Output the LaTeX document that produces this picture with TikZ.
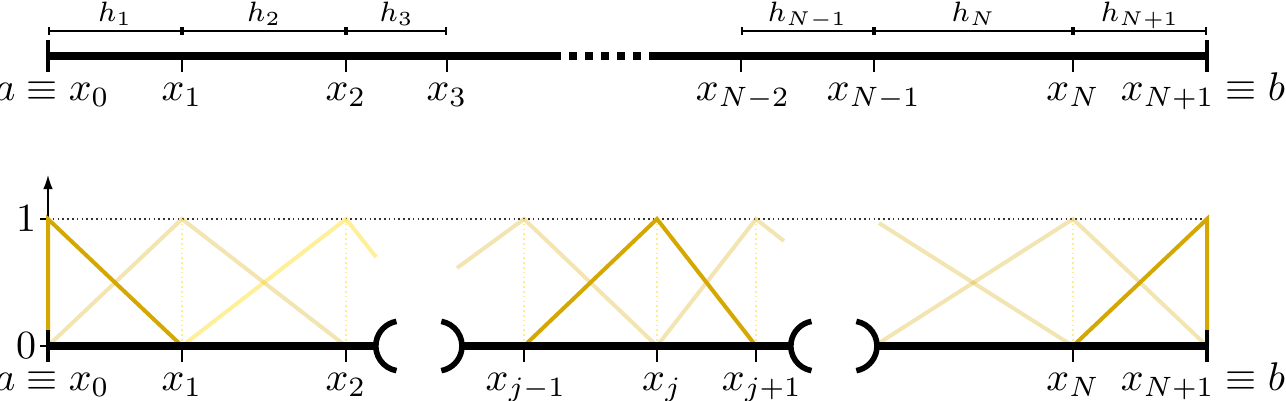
\documentclass[tikz,border=0pt]{standalone}
\usepackage{amsmath,amssymb}
\usetikzlibrary{arrows.meta}
\definecolor{hatdark}{RGB}{212,168,0}
\definecolor{hatgold}{RGB}{255,215,0}
\tikzset{
  axisline/.style={line width=2pt},
  endbar/.style={line width=1pt},
  tickline/.style={line width=0.5pt},
  brk/.style={line width=1.4pt},
  hat/.style={line width=1pt,hatdark},
  fadedhat/.style={hat,opacity=0.3},
  yelhat/.style={line width=1pt,hatgold,opacity=0.4},
  guide/.style={hatgold!45,line width=0.4pt,dash pattern=on 0.4pt off 0.8pt},
  level/.style={black!80,line width=0.4pt,dash pattern=on 0.4pt off 0.8pt},
  hspan/.style={line width=0.4pt,{Bar[width=2pt]}-{Bar[width=2pt]}},
  lbl/.style={anchor=base,font=\fontsize{9.7}{11.6}\selectfont},
  hlbl/.style={anchor=base,font=\scriptsize}
}

\begin{document}
\begin{tikzpicture}[x=0.25pt,y=-0.25pt]
\useasboundingbox (0,0) rectangle (1286,400);
% top: the partition
\draw[axisline] (48,56) -- (553,56);
\draw[axisline,dotted] (553,56) -- (653,56);
\draw[axisline] (653,56) -- (1207,56);
\draw[endbar] (48,40) -- (48,72);
\draw[endbar] (1207,40) -- (1207,72);
\foreach \x in {182,346,447,741,874,1073}
  \draw[tickline] (\x,56) -- (\x,72);
\foreach \a/\b/\t in {48/182/1,182/346/2,346/447/3,741/874/{N-1},874/1073/N,1073/1207/{N+1}}{
  \draw[hspan] (\a,31) -- (\b,31);
  \node[hlbl] at ({(\a+\b)/2},21) {$h_{\t}$};
}
\foreach \x/\n/\t in {52/t0/{a\equiv x_0},182/t1/{x_1},346/t2/{x_2},447/t3/{x_3},743/tNmm/{x_{N-2}},874/tNm/{x_{N-1}},1073/tN/{x_N},1203/tNp/{x_{N+1}\equiv b}}
  \node[lbl] (\n) at (\x,100) {$\t$};

% bottom: hat functions
\draw[-{Latex[length=3.5pt,width=2.4pt]},line width=0.4pt] (48,346) -- (48,175);
\draw[tickline] (40,219) -- (48,219);
\draw[tickline] (40,346) -- (48,346);
\node[anchor=east,inner sep=1pt,font=\fontsize{9.7}{11.6}\selectfont] (one) at (41,219) {$1$};
\node[anchor=east,inner sep=1pt,font=\fontsize{9.7}{11.6}\selectfont] (zero) at (41,346) {$0$};
\draw[level] (48,219) -- (1207,219);
\foreach \x in {182,346,524,657,756,1073}
  \draw[guide] (\x,219) -- (\x,346);

\draw[fadedhat] (48,346) -- (182,219) -- (346,346);
\draw[yelhat] (182,346) -- (346,219) -- (376,257);
\draw[fadedhat] (457,268) -- (524,219) -- (657,346);
\draw[fadedhat] (657,346) -- (756,219) -- (784,241);
\draw[fadedhat] (879,223) -- (1073,346);
\draw[fadedhat] (879,343) -- (1073,219) -- (1207,346);
\draw[hat] (48,346) -- (48,219) -- (182,346);
\draw[hat] (524,346) -- (657,219) -- (756,346);
\draw[hat] (1073,346) -- (1207,219) -- (1207,346);

\draw[axisline] (48,346) -- (375.8,346);
\draw[axisline] (462,346) -- (790.8,346);
\draw[axisline] (877,346) -- (1207,346);
\foreach \c in {400.8,815.8}
  \draw[brk] (\c,346) ++(100:25) arc[start angle=100,end angle=260,radius=25];
\foreach \c in {437,852}
  \draw[brk] (\c,346) ++(-80:25) arc[start angle=-80,end angle=80,radius=25];
\draw[endbar] (48,330) -- (48,362);
\draw[endbar] (1207,330) -- (1207,362);
\foreach \x in {182,346,524,657,756,1073}
  \draw[tickline] (\x,346) -- (\x,362);
\foreach \x/\n/\t in {52/b0/{a\equiv x_0},182/b1/{x_1},346/b2/{x_2},526/bjm/{x_{j-1}},662/bj/{x_j},762/bjp/{x_{j+1}},1073/bN/{x_N},1203/bNp/{x_{N+1}\equiv b}}
  \node[lbl] (\n) at (\x,390) {$\t$};
\end{tikzpicture}
\end{document}
